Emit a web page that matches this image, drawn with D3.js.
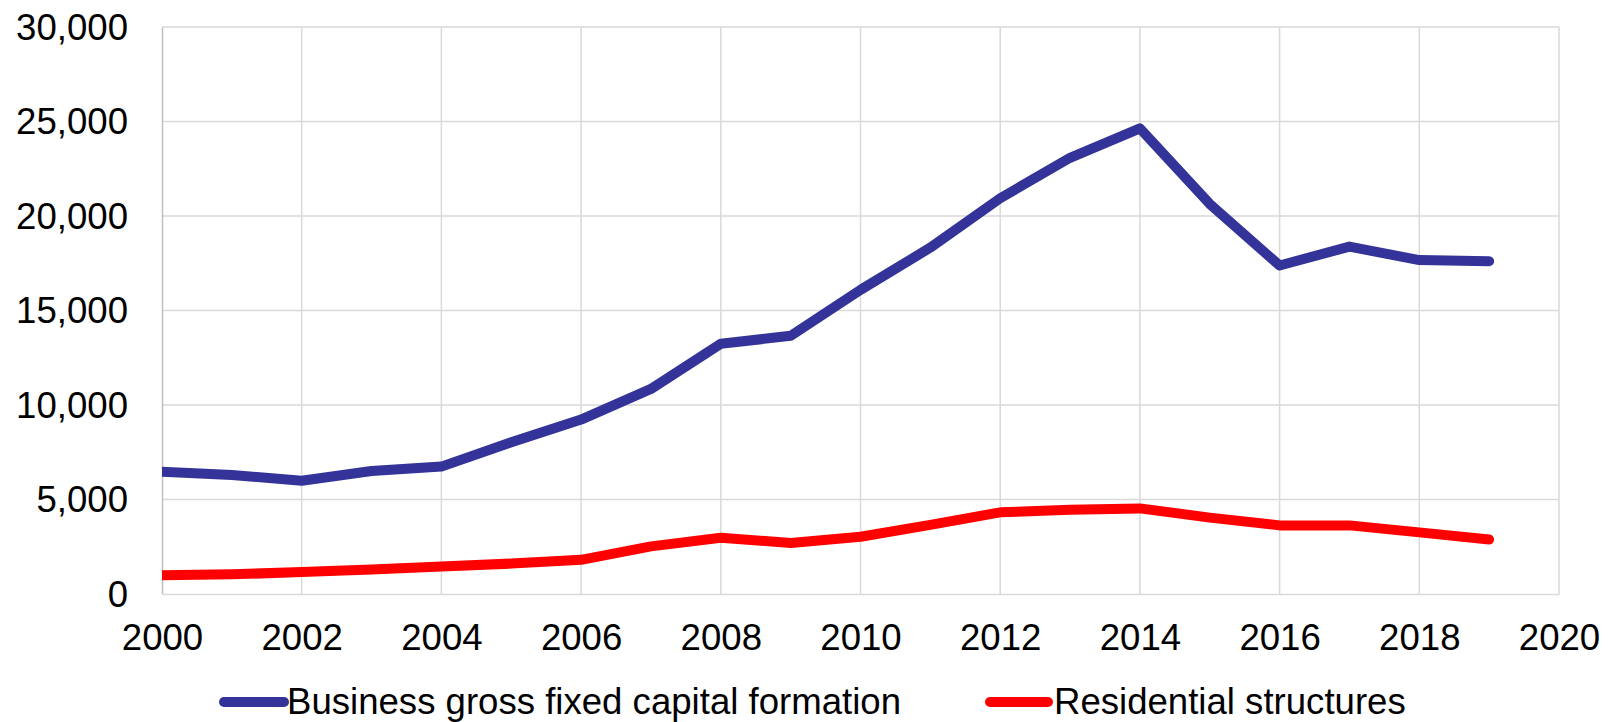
<!DOCTYPE html>
<html>
<head>
<meta charset="utf-8">
<script src="https://cdn.jsdelivr.net/npm/d3@7/dist/d3.min.js"></script>
<style>
  html, body { margin: 0; padding: 0; background: #ffffff; }
  svg { display: block; }
  text { font-family: "Liberation Sans", Arial, sans-serif; fill: #000000; }
</style>
</head>
<body>
<svg id="chart" width="1608" height="722"></svg>
<script>
const years = [2000, 2001, 2002, 2003, 2004, 2005, 2006, 2007, 2008, 2009,
               2010, 2011, 2012, 2013, 2014, 2015, 2016, 2017, 2018, 2019];
const business = [6470, 6300, 5995, 6510, 6740, 8030, 9230, 10850, 13240, 13660,
                  16090, 18330, 20940, 23080, 24640, 20640, 17380, 18380, 17670, 17610];
const residential = [990, 1040, 1160, 1300, 1450, 1610, 1810, 2520, 2980, 2700,
                     3030, 3660, 4320, 4460, 4530, 4040, 3630, 3630, 3260, 2880];
const seriesNames = ["Business gross fixed capital formation", "Residential structures"];
const seriesColors = ["#333399", "#ff0000"];
const yTicks = [0, 5000, 10000, 15000, 20000, 25000, 30000];
const xTicks = [2000, 2002, 2004, 2006, 2008, 2010, 2012, 2014, 2016, 2018, 2020];

(function () {
const svg = d3.select("#chart");
const pLeft = 162, pRight = 1559, pTop = 27, pBottom = 594;
const fontSize = 36.6;

const x = d3.scaleLinear().domain([2000, 2020]).range([pLeft, pRight]);
const y = d3.scaleLinear().domain([0, 30000]).range([pBottom, pTop]);

// gridlines
const grid = svg.append("g");
grid.selectAll("line.h").data(yTicks.filter(d => d > 0)).join("line")
  .attr("class", "h")
  .attr("x1", pLeft).attr("x2", pRight)
  .attr("y1", d => y(d)).attr("y2", d => y(d))
  .attr("stroke", "#d9d9d9").attr("stroke-width", 1.5);
grid.selectAll("line.v").data(xTicks.filter(d => d > 2000)).join("line")
  .attr("class", "v")
  .attr("x1", d => x(d)).attr("x2", d => x(d))
  .attr("y1", pTop).attr("y2", pBottom)
  .attr("stroke", "#d9d9d9").attr("stroke-width", 1.5);

// axes
const yAxis = d3.axisLeft(y).tickValues(yTicks).tickSize(0).tickPadding(34)
  .tickFormat(d3.format(","));
const gy = svg.append("g").attr("transform", `translate(${pLeft},0)`).call(yAxis);
gy.select(".domain").attr("stroke", "#bfbfbf").attr("stroke-width", 1.5);
gy.selectAll("text").style("font-size", fontSize + "px")
  .style("font-family", '"Liberation Sans", Arial, sans-serif').attr("fill", "#000").attr("dy", "0.34em");

const xAxis = d3.axisBottom(x).tickValues(xTicks).tickSize(0).tickPadding(0)
  .tickFormat(d3.format("d"));
const gx = svg.append("g").attr("transform", `translate(0,${pBottom})`).call(xAxis);
gx.select(".domain").attr("stroke", "#d9d9d9").attr("stroke-width", 1.5);
gx.selectAll("text").style("font-size", fontSize + "px")
  .style("font-family", '"Liberation Sans", Arial, sans-serif').attr("fill", "#000")
  .attr("y", 56).attr("dy", 0);

// clip
svg.append("clipPath").attr("id", "plotclip").append("rect")
  .attr("x", pLeft).attr("y", 0).attr("width", pRight - pLeft).attr("height", pBottom + 10);

const line = d3.line().x((d, i) => x(years[i])).y(d => y(d));
const lines = svg.append("g").attr("clip-path", "url(#plotclip)");
[business, residential].forEach((s, k) => {
  lines.append("path").datum(s)
    .attr("d", line)
    .attr("fill", "none")
    .attr("stroke", seriesColors[k])
    .attr("stroke-width", 10)
    .attr("stroke-linecap", "round")
    .attr("stroke-linejoin", "round");
});

// legend
const legendItems = [
  { x1: 224, x2: 284, tx: 287 },
  { x1: 990, x2: 1048, tx: 1054 }
];
const legend = svg.append("g");
legendItems.forEach((it, k) => {
  legend.append("line")
    .attr("x1", it.x1).attr("x2", it.x2).attr("y1", 702).attr("y2", 702)
    .attr("stroke", seriesColors[k]).attr("stroke-width", 10).attr("stroke-linecap", "round");
  legend.append("text").attr("x", it.tx).attr("y", 714)
    .style("font-size", fontSize + "px").text(seriesNames[k]);
});
})();
</script>
</body>
</html>
